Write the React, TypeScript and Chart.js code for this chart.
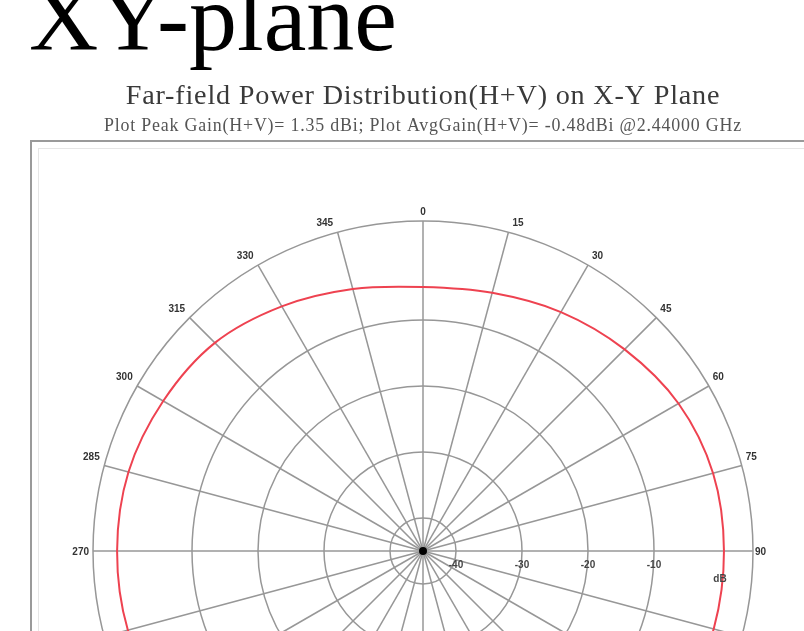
import React, { useEffect, useRef } from 'react';
import { Chart, registerables } from 'chart.js';

Chart.register(...registerables);

const PAGE_TITLE = 'XY-plane';
const CHART_TITLE = 'Far-field Power Distribution(H+V) on X-Y Plane';
const CHART_SUBTITLE = 'Plot Peak Gain(H+V)= 1.35 dBi; Plot AvgGain(H+V)= -0.48dBi @2.44000 GHz';

// azimuth angle (degrees), clockwise from top
const ANGLES = ['0', '15', '30', '45', '60', '75', '90', '105', '120', '135', '150', '165',
  '180', '195', '210', '225', '240', '255', '270', '285', '300', '315', '330', '345'];

// H+V gain in dB at each angle
const GAIN_DB = [-5.0, -4.5, -3.2, -1.8, -0.3, 0.5, 0.6, 0.6, 0.5, 0.2, -0.6, -1.8,
  -2.6, -2.0, -1.0, 0.0, 0.8, 1.3, 1.35, 1.2, 0.45, -0.4, -2.2, -3.9];

// radial axis
const R_MIN = -45;
const R_MAX = 5;
const RING_VALUES = [-45, -40, -30, -20, -10, 0, 5];
const RING_LABELS = ['', '-40', '-30', '-20', '-10', 'dB', ''];
const HIDDEN_RINGS = [-45, 0];

const LABEL_FONT = 'bold 10px "Liberation Sans", Arial, sans-serif';
const SERIF = '"Liberation Serif", "Times New Roman", serif';

const polarDecor = {
  id: 'polarDecor',
  beforeDraw(chart: any) {
    const ctx = chart.ctx;
    ctx.save();
    ctx.strokeStyle = '#9a9a9a';
    ctx.lineWidth = 2;
    ctx.strokeRect(31, 141, 1200, 1200);
    ctx.strokeStyle = '#e6e6e6';
    ctx.lineWidth = 1;
    ctx.strokeRect(38.5, 148.5, 1200, 1200);
    ctx.restore();
    // slightly spread title lettering, as in the source image
    ctx.letterSpacing = '0.8px';
  },
  beforeDatasetsDraw(chart: any) {
    chart.ctx.letterSpacing = '0px';
  },
  afterDatasetsDraw(chart: any) {
    const s = chart.scales.r;
    const ctx = chart.ctx;
    ctx.save();
    ctx.letterSpacing = '0px';
    // centre dot
    ctx.fillStyle = '#000';
    ctx.beginPath();
    ctx.arc(s.xCenter, s.yCenter, 4, 0, Math.PI * 2);
    ctx.fill();

    // angle labels
    ctx.font = LABEL_FONT;
    ctx.fillStyle = '#333';
    ANGLES.forEach((lab, i) => {
      const p = s.getPointPosition(i, s.drawingArea);
      const rad = (i * 2 * Math.PI) / ANGLES.length;
      const sn = Math.sin(rad);
      const cs = Math.cos(rad);
      let x = p.x;
      let y = p.y;
      if (Math.abs(sn) < 0.01) {
        ctx.textAlign = 'center';
      } else if (sn > 0) {
        ctx.textAlign = 'left';
        x += Math.abs(cs) < 0.01 ? 2 : 4;
      } else {
        ctx.textAlign = 'right';
        x -= Math.abs(cs) < 0.01 ? 4 : 4.5;
      }
      if (Math.abs(cs) < 0.01) {
        ctx.textBaseline = 'middle';
        y += 1;
      } else if (cs > 0) {
        ctx.textBaseline = 'alphabetic';
        y -= 6;
      } else {
        ctx.textBaseline = 'top';
        y += 6;
      }
      ctx.fillText(lab, x, y);
    });

    // radial labels along the 90 degree axis
    ctx.fillStyle = '#444';
    ctx.textAlign = 'center';
    ctx.textBaseline = 'middle';
    RING_VALUES.forEach((v, i) => {
      const lab = RING_LABELS[i];
      if (!lab) return;
      const d = s.getDistanceFromCenterForValue(v);
      ctx.fillText(lab, s.xCenter + d, s.yCenter + (lab === 'dB' ? 28 : 14));
    });
    ctx.restore();
  },
};

export default function App() {
  const canvasRef = useRef<HTMLCanvasElement | null>(null);

  useEffect(() => {
    const canvas = canvasRef.current;
    if (!canvas) return;
    const chart = new Chart(canvas, {
      type: 'radar',
      data: {
        labels: ANGLES,
        datasets: [
          {
            label: 'H+V',
            data: GAIN_DB,
            borderColor: '#ee4250',
            borderWidth: 2,
            pointRadius: 0,
            fill: false,
            tension: 0.34,
          },
        ],
      },
      options: {
        responsive: false,
        animation: false,
        devicePixelRatio: 1,
        layout: { padding: { left: 93, right: 147, top: 0, bottom: 19 } },
        plugins: {
          legend: { display: false },
          tooltip: { enabled: false },
          title: {
            display: true,
            text: CHART_TITLE,
            color: '#3a3a3a',
            font: { family: SERIF, size: 28.2, weight: 'normal', lineHeight: 1 },
            padding: { top: 83, bottom: 0 },
          },
          subtitle: {
            display: true,
            text: CHART_SUBTITLE,
            color: '#555',
            font: { family: SERIF, size: 17.9, weight: 'normal', lineHeight: 1 },
            padding: { top: 5.85, bottom: 86.05 },
          },
        },
        scales: {
          r: {
            min: R_MIN,
            max: R_MAX,
            startAngle: 0,
            afterBuildTicks: (scale: any) => {
              scale.ticks = RING_VALUES.map((v) => ({ value: v }));
            },
            ticks: { display: false },
            pointLabels: { display: false },
            angleLines: { display: true, color: '#979797', lineWidth: 1.5 },
            grid: {
              circular: true,
              lineWidth: 1.5,
              color: (ctx: any) =>
                ctx.tick && HIDDEN_RINGS.includes(ctx.tick.value) ? 'rgba(0,0,0,0)' : '#979797',
            },
          },
        },
      },
      plugins: [polarDecor],
    });
    return () => chart.destroy();
  }, []);

  return (
    <div style={{ position: 'fixed', left: 0, top: 0, width: 804, height: 631, overflow: 'hidden', background: '#fff' }}>
      <canvas ref={canvasRef} width={900} height={900} style={{ position: 'absolute', left: 0, top: 0, display: 'block' }} />
      <div
        style={{
          position: 'absolute',
          left: 29,
          top: -30,
          fontFamily: SERIF,
          fontSize: 96,
          lineHeight: '96px',
          color: '#000',
          whiteSpace: 'nowrap',
        }}
      >
        {PAGE_TITLE}
      </div>
    </div>
  );
}
